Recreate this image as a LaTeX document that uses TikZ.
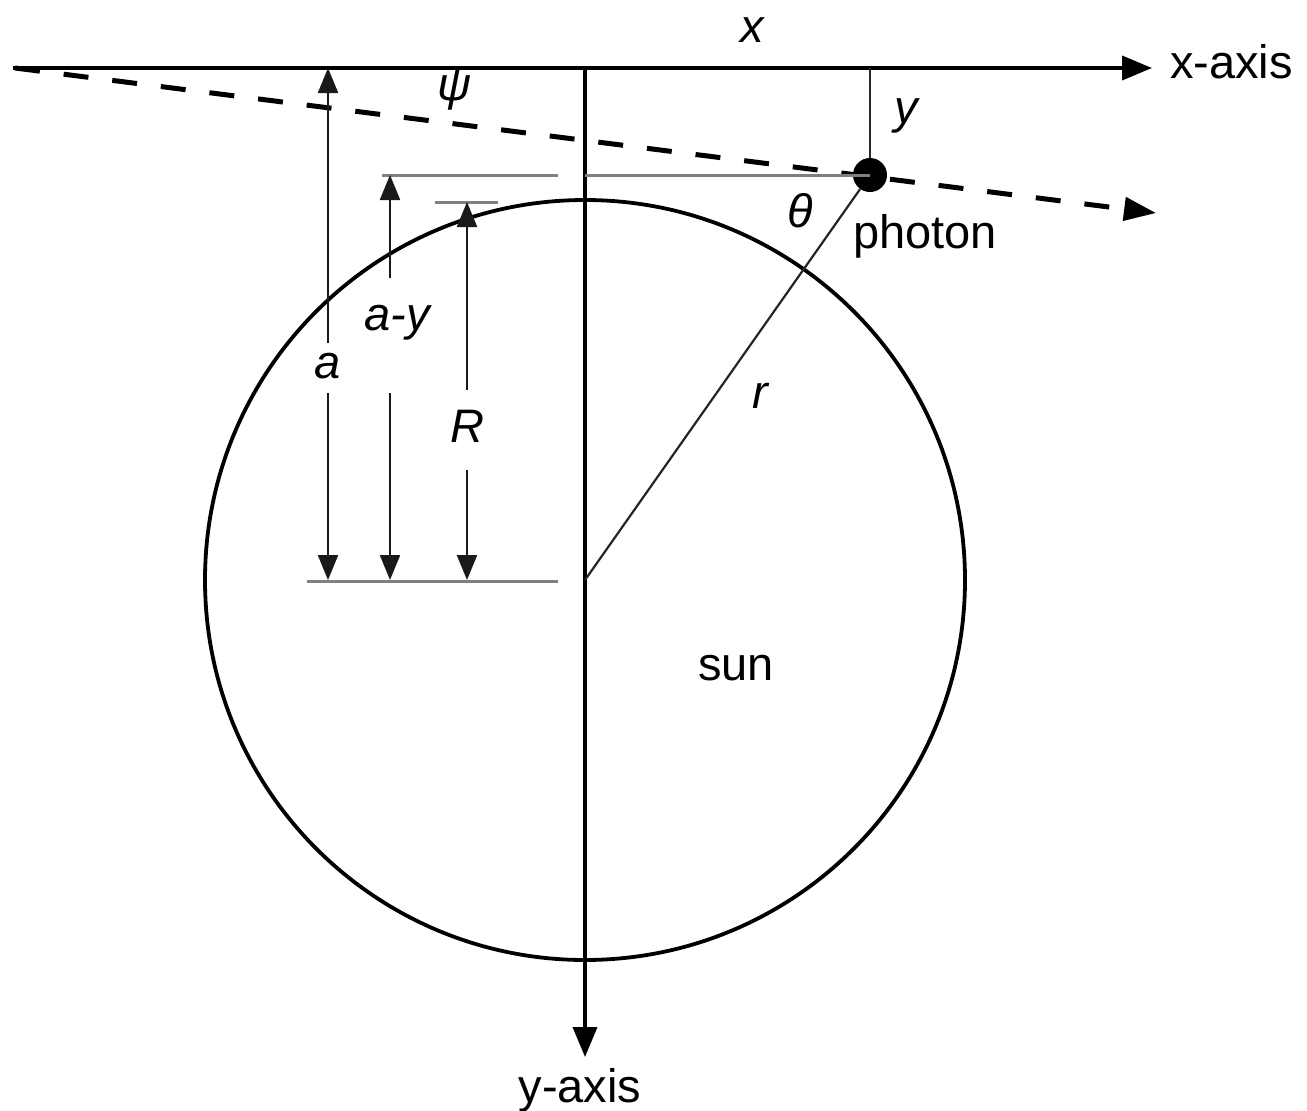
\documentclass[tikz,border=0pt]{standalone}
\usepackage{fontspec}
\setmainfont{Liberation Sans}
\usetikzlibrary{arrows.meta}
\begin{document}
\begin{tikzpicture}[x=1pt,y=-1pt,
  lbl/.style={font=\fontsize{47}{56}\selectfont, inner sep=0pt, anchor=base},
  ilbl/.style={lbl, font=\fontsize{47}{56}\selectfont\itshape},
  axisline/.style={line width=3.8pt, -{Triangle[length=30pt,width=24pt]}},
  thinline/.style={line width=2.2pt, black!85},
  guide/.style={line width=3pt, black!50},
  dimarrow/.style={line width=2.2pt, black!90, -{Triangle[length=25pt,width=20pt]}},
  dashline/.style={line width=5pt, dash pattern=on 25pt off 24pt, -{Triangle[length=32pt,width=23pt]}},
]
\useasboundingbox (0,0) rectangle (1307,1111);
\fill[white] (0,0) rectangle (1307,1111);

% coordinates
\coordinate (O) at (585,68);
\coordinate (xs) at (13,68);
\coordinate (xe) at (1152,68);
\coordinate (ye) at (585,1057);
\coordinate (C) at (585,580);
\coordinate (ds) at (15,68);
\coordinate (de) at (1156,213);
\coordinate (yt) at (870,68);

% sun
\draw[line width=3.8pt] (C) circle[radius=380];

% axes
\draw[axisline] (xs) -- (xe);
\draw[axisline] (O) -- (ye);

% guide lines
\coordinate (g1a) at (382,175); \coordinate (g1b) at (558,175);
\coordinate (g2a) at (585,175);
\coordinate (g3a) at (435,202); \coordinate (g3b) at (498,202);
\coordinate (g4a) at (307,581); \coordinate (g4b) at (558,581);
\draw[guide] (g1a) -- (g1b);
\draw[guide] (g3a) -- (g3b);
\draw[guide] (g4a) -- (g4b);

% dashed trajectory
\draw[dashline] (ds) -- (de);

% photon
\node[circle, fill=black, inner sep=0pt, minimum size=34pt] (ph) at (870,175) {};
\draw[guide] (g2a) -- (ph.center);
\draw[thinline] (yt) -- (ph);
\draw[thinline] (C) -- (ph);

% dimension arrows
\coordinate (aT) at (328,68);  \coordinate (aU) at (328,343);
\coordinate (aL) at (328,393); \coordinate (aB) at (328,580);
\draw[dimarrow] (aU) -- (aT);
\draw[dimarrow] (aL) -- (aB);
\coordinate (bT) at (390,175); \coordinate (bU) at (390,278);
\coordinate (bL) at (390,393); \coordinate (bB) at (390,580);
\draw[dimarrow] (bU) -- (bT);
\draw[dimarrow] (bL) -- (bB);
\coordinate (cT) at (467,202); \coordinate (cU) at (467,390);
\coordinate (cL) at (467,470); \coordinate (cB) at (467,580);
\draw[dimarrow] (cU) -- (cT);
\draw[dimarrow] (cL) -- (cB);

% labels
\node[ilbl] (la) at (328,378) {a};
\node[ilbl] (lay) at (397,330) {a-y};
\node[ilbl] (lR) at (467,442) {R};
\node[ilbl] (lx) at (752,42) {x};
\node[ilbl] (ly) at (906,123) {y};
\node[ilbl] (lpsi) at (455,100) {ψ};
\node[ilbl] (lth) at (800,227) {θ};
\node[ilbl] (lr) at (760,408) {r};
\node[lbl, anchor=base west] (lph) at (853,248) {photon};
\node[lbl, anchor=base west] (lxa) at (1170,78) {x-axis};
\node[lbl] (lya) at (580,1102) {y-axis};
\node[lbl] (lsun) at (736,680) {sun};
\end{tikzpicture}
\end{document}
